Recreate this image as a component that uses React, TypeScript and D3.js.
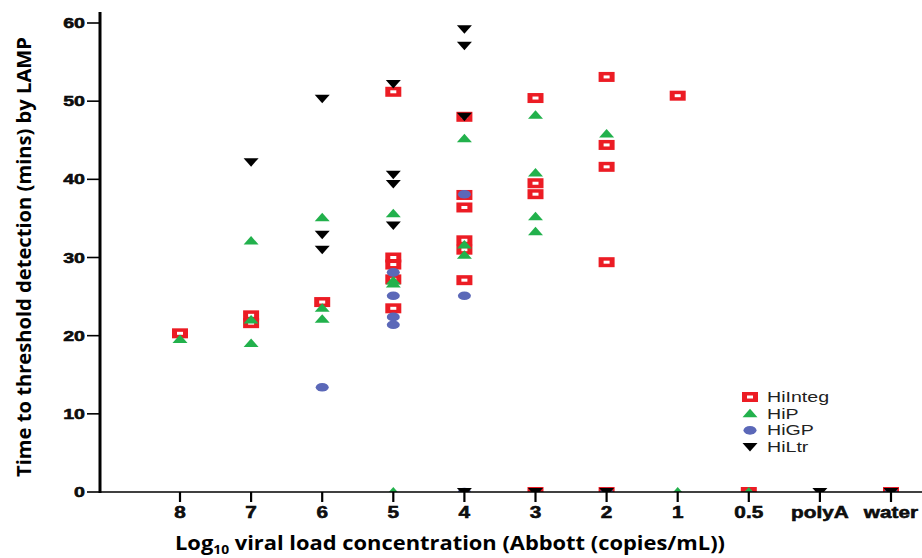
import React, { useEffect, useRef } from 'react';
import * as d3 from 'd3';

const categories = ['8', '7', '6', '5', '4', '3', '2', '1', '0.5', 'polyA', 'water'];
const yTicks = [0, 10, 20, 30, 40, 50, 60];

// [category, minutes] pairs
const hiInteg: [string, number][] = [
  ['8', 20.3],
  ['7', 22.6], ['7', 21.6],
  ['6', 24.3],
  ['5', 51.2], ['5', 30.0], ['5', 29.1], ['5', 27.2], ['5', 23.5],
  ['4', 48.0], ['4', 38.0], ['4', 36.4], ['4', 32.2], ['4', 31.0], ['4', 27.1],
  ['3', 50.4], ['3', 39.5], ['3', 38.1], ['3', 0],
  ['2', 53.1], ['2', 44.4], ['2', 41.6], ['2', 29.4], ['2', 0],
  ['1', 50.7],
  ['0.5', 0],
  ['water', 0],
];
const hiP: [string, number][] = [
  ['8', 19.5],
  ['7', 32.1], ['7', 22.0], ['7', 19.0],
  ['6', 35.1], ['6', 23.5], ['6', 22.1],
  ['5', 35.6], ['5', 27.0], ['5', 26.6], ['5', 0],
  ['4', 45.2], ['4', 31.6], ['4', 30.3],
  ['3', 48.2], ['3', 40.8], ['3', 35.2], ['3', 33.3],
  ['2', 45.8],
  ['1', 0],
  ['0.5', 0],
];
const hiGP: [string, number][] = [
  ['6', 13.4],
  ['5', 28.1], ['5', 25.1], ['5', 22.4], ['5', 21.4],
  ['4', 38.1], ['4', 25.1], ['4', 0],
  ['2', 0],
  ['water', 0],
];
const hiLtr: [string, number][] = [
  ['7', 42.2],
  ['6', 50.3], ['6', 32.9], ['6', 31.0],
  ['5', 52.2], ['5', 40.6], ['5', 39.4], ['5', 34.1],
  ['4', 59.2], ['4', 57.1], ['4', 48.0], ['4', 0],
  ['3', 0],
  ['2', 0],
  ['polyA', 0],
  ['water', 0],
];

const RED = '#ec1c24';
const GREEN = '#22b14c';
const BLUE = '#5b68b8';

const drawMarker = (g: any, kind: string) => {
  if (kind === 'square') {
    g.append('rect').attr('x', -8).attr('y', -5).attr('width', 16).attr('height', 10).attr('fill', RED);
    g.append('rect').attr('x', -3).attr('y', -1.5).attr('width', 6).attr('height', 3).attr('fill', '#fff');
  } else if (kind === 'up') {
    g.append('path').attr('d', 'M0,-5L7.5,3.5L-7.5,3.5Z').attr('fill', GREEN);
  } else if (kind === 'circle') {
    g.append('ellipse').attr('rx', 6.5).attr('ry', 4.3).attr('fill', BLUE);
  } else {
    g.append('path').attr('d', 'M-7.5,-4L7.5,-4L0,4.5Z').attr('fill', '#000');
  }
};

const App = () => {
  const ref = useRef<SVGSVGElement>(null);

  useEffect(() => {
    const svg = d3.select(ref.current);
    svg.selectAll('*').remove();

    const x = d3.scalePoint().domain(categories).range([180, 891]);
    const y = d3.scaleLinear().domain([0, 60]).range([492, 23]);

    svg.append('defs').append('clipPath').attr('id', 'plotclip')
      .append('rect').attr('x', 100).attr('y', 0).attr('width', 822).attr('height', 492);

    const series = [
      { data: hiInteg, kind: 'square' },
      { data: hiP, kind: 'up' },
      { data: hiGP, kind: 'circle' },
      { data: hiLtr, kind: 'down' },
    ];

    const plot = svg.append('g').attr('clip-path', 'url(#plotclip)');
    series.forEach(s => {
      s.data.forEach(d => {
        const g = plot.append('g').attr('transform', `translate(${x(d[0])},${y(d[1])})`);
        drawMarker(g, s.kind);
      });
    });

    // x axis
    svg.append('line').attr('x1', 100).attr('x2', 922).attr('y1', 492).attr('y2', 492)
      .attr('stroke', '#000').attr('stroke-width', 1.6);
    categories.forEach(c => {
      svg.append('line').attr('x1', x(c)).attr('x2', x(c)).attr('y1', 492).attr('y2', 502)
        .attr('stroke', '#000').attr('stroke-width', 2.2);
      svg.append('text')
        .attr('transform', `translate(${x(c)},518) scale(1.3,1)`)
        .attr('text-anchor', 'middle')
        .attr('font-family', 'Liberation Sans, Arial, sans-serif')
        .attr('font-weight', 'bold').attr('font-size', 16)
        .attr('stroke', '#000').attr('stroke-width', 0.5)
        .attr('fill', '#111')
        .text(c);
    });

    // y axis
    svg.append('line').attr('x1', 100).attr('x2', 100).attr('y1', 12).attr('y2', 493)
      .attr('stroke', '#000').attr('stroke-width', 3);
    yTicks.forEach(t => {
      svg.append('line').attr('x1', 87).attr('x2', 100).attr('y1', y(t)).attr('y2', y(t))
        .attr('stroke', '#000').attr('stroke-width', 1.6);
      svg.append('text')
        .attr('transform', `translate(85,${y(t) + 5}) scale(1.4,1)`)
        .attr('text-anchor', 'end')
        .attr('font-family', 'Liberation Sans, Arial, sans-serif')
        .attr('font-weight', 'bold').attr('font-size', 14)
        .attr('stroke', '#000').attr('stroke-width', 0.5)
        .attr('fill', '#111')
        .text(t);
    });

    // axis titles
    svg.append('text')
      .attr('transform', 'translate(31,257) rotate(-90)')
      .attr('text-anchor', 'middle')
      .attr('font-family', 'Open Sans, sans-serif')
      .attr('font-weight', 'bold').attr('font-size', 19)
      .attr('textLength', 440).attr('lengthAdjust', 'spacingAndGlyphs')
      .text('Time to threshold detection (mins) by LAMP');

    const xt = svg.append('text')
      .attr('x', 450).attr('y', 550)
      .attr('text-anchor', 'middle')
      .attr('font-family', 'Open Sans, sans-serif')
      .attr('font-weight', 'bold').attr('font-size', 19)
      .attr('textLength', 550).attr('lengthAdjust', 'spacingAndGlyphs');
    xt.append('tspan').text('Log');
    xt.append('tspan').attr('font-size', 12).attr('dy', 4).text('10');
    xt.append('tspan').attr('dy', -4).text(' viral load concentration (Abbott (copies/mL))');

    // legend
    const legend = [
      { name: 'HiInteg', kind: 'square' },
      { name: 'HiP', kind: 'up' },
      { name: 'HiGP', kind: 'circle' },
      { name: 'HiLtr', kind: 'down' },
    ];
    const ly = d3.scalePoint().domain(legend.map(l => l.name)).range([397, 447]);
    legend.forEach(l => {
      const g = svg.append('g').attr('transform', `translate(750,${ly(l.name)})`);
      drawMarker(g, l.kind);
      svg.append('text')
        .attr('transform', `translate(767,${(ly(l.name) as number) + 5}) scale(1.4,1)`)
        .attr('font-family', 'Liberation Sans, Arial, sans-serif')
        .attr('font-size', 14).attr('fill', '#222')
        .text(l.name);
    });
  }, []);

  return (
    <svg ref={ref} width={922} height={558}
      style={{ position: 'absolute', left: 0, top: 0, background: '#fff' }} />
  );
};

export default App;
